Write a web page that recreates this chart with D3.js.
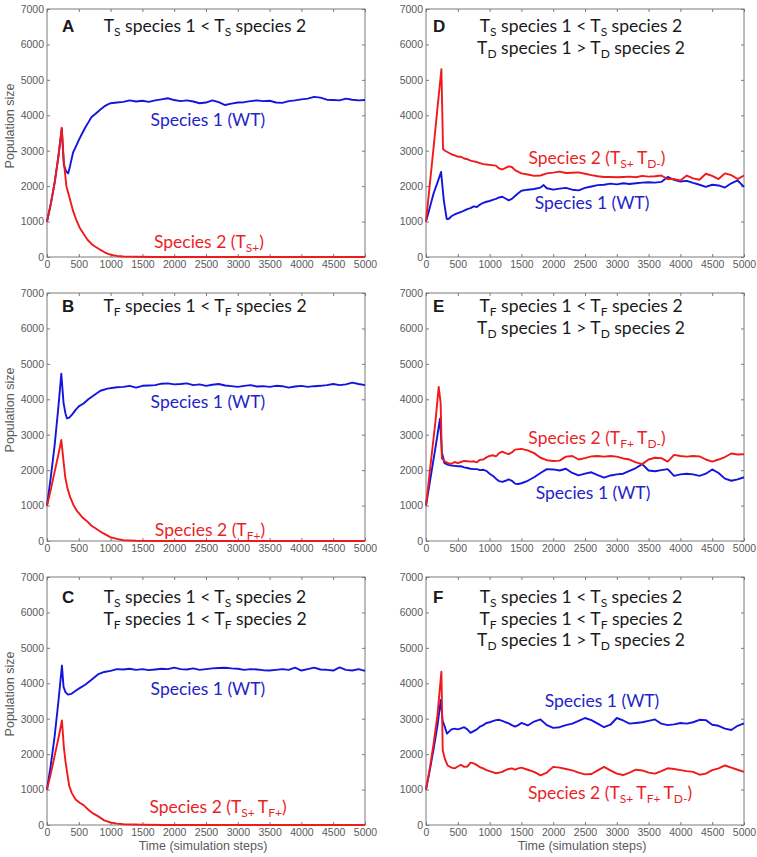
<!DOCTYPE html>
<html>
<head>
<meta charset="utf-8">
<title>Population size over time</title>
<script src="https://d3js.org/d3.v7.min.js"></script>
<style>
  body { margin: 0; background: #fff; }
  svg { display: block; }
  .tick text { font-family: 'Liberation Sans Narrow', 'Arial Narrow', 'Liberation Sans', sans-serif; font-size: 10.5px; fill: #5a5a5a; }
  .tick line { stroke: #7a7a7a; }
  .frame { fill: none; stroke: #7a7a7a; stroke-width: 1; }
  .axis-label { font-family: 'Liberation Sans Narrow', 'Arial Narrow', 'Liberation Sans', sans-serif; font-size: 12.5px; fill: #5a5a5a; }
  .title { font-family: Lato, 'Open Sans', sans-serif; font-size: 17.5px; fill: #1a1a1a; }
  .letter { font-family: 'Liberation Sans', Arial, sans-serif; font-size: 17px; font-weight: bold; fill: #1a1a1a; }
  .sp-label { font-family: Lato, 'Open Sans', sans-serif; font-size: 17.5px; }
  .line { fill: none; stroke-width: 1.9; stroke-linejoin: round; }
</style>
</head>
<body>
<script>
// ---- data: [time step, population size] ----
var xTicks = [0, 500, 1000, 1500, 2000, 2500, 3000, 3500, 4000, 4500, 5000];
var yTicks = [0, 1000, 2000, 3000, 4000, 5000, 6000, 7000];

var speciesA1 = [[0,1000],[60,1500],[120,2100],[180,2850],[232,3620],[265,2600],[300,2420],[332,2360],[360,2550],[410,2950],[450,3100],[500,3300],[550,3480],[600,3650],[650,3800],[700,3950],[750,4020],[800,4100],[850,4180],[900,4250],[950,4300],[1000,4340],[1100,4360],[1200,4380],[1300,4420],[1400,4390],[1500,4410],[1600,4380],[1700,4420],[1800,4450],[1900,4480],[2000,4430],[2100,4400],[2200,4420],[2300,4390],[2400,4340],[2500,4360],[2600,4420],[2700,4370],[2800,4290],[2900,4330],[3000,4360],[3100,4370],[3200,4400],[3300,4420],[3400,4400],[3500,4410],[3600,4360],[3700,4350],[3800,4400],[3900,4420],[4000,4450],[4100,4470],[4200,4520],[4300,4500],[4400,4440],[4500,4430],[4600,4420],[4700,4470],[4800,4440],[4900,4420],[5000,4430]];
var speciesA2 = [[0,1000],[60,1500],[120,2100],[180,2850],[232,3650],[263,2720],[305,2000],[350,1700],[410,1300],[460,1050],[516,820],[580,640],[640,480],[700,370],[760,290],[832,210],[900,140],[960,90],[1040,50],[1100,30],[1200,15],[1400,5],[1700,0],[5000,0]];

var speciesB1 = [[0,1000],[60,1800],[120,2700],[180,3800],[225,4720],[260,3900],[290,3600],[315,3460],[350,3480],[400,3580],[450,3700],[500,3800],[575,3880],[650,4000],[750,4130],[840,4240],[950,4300],[1100,4340],[1200,4350],[1300,4380],[1400,4330],[1500,4380],[1600,4390],[1700,4400],[1800,4440],[1900,4450],[2000,4420],[2100,4430],[2200,4450],[2300,4400],[2400,4420],[2500,4380],[2600,4410],[2700,4430],[2800,4390],[2900,4370],[3000,4350],[3100,4380],[3200,4400],[3300,4360],[3400,4370],[3500,4350],[3600,4380],[3700,4370],[3800,4330],[3900,4360],[4000,4380],[4100,4350],[4200,4370],[4300,4380],[4400,4400],[4500,4430],[4600,4400],[4700,4420],[4800,4470],[4900,4430],[5000,4400]];
var speciesB2 = [[0,1000],[60,1450],[120,1950],[180,2450],[225,2850],[260,2250],[288,1790],[320,1500],[366,1230],[420,1000],[471,850],[550,680],[628,560],[700,430],[785,330],[880,220],[995,110],[1100,60],[1200,20],[1400,8],[1800,0],[5000,0]];

var speciesC1 = [[0,1000],[60,1700],[120,2500],[180,3500],[235,4500],[260,3900],[290,3750],[330,3680],[380,3700],[450,3790],[520,3870],[600,3960],[700,4100],[800,4250],[900,4320],[1000,4350],[1100,4400],[1200,4390],[1300,4410],[1400,4380],[1500,4400],[1600,4370],[1700,4390],[1800,4410],[1900,4400],[2000,4440],[2100,4400],[2200,4390],[2300,4420],[2400,4380],[2500,4400],[2600,4420],[2700,4430],[2800,4440],[2900,4420],[3000,4410],[3100,4380],[3200,4400],[3300,4390],[3400,4370],[3500,4360],[3600,4380],[3700,4400],[3800,4380],[3900,4440],[4000,4360],[4100,4400],[4200,4440],[4300,4390],[4400,4380],[4500,4360],[4600,4450],[4700,4380],[4800,4360],[4900,4400],[5000,4350]];
var speciesC2 = [[0,1000],[60,1450],[120,1950],[180,2450],[235,2950],[265,2200],[290,1800],[315,1500],[350,1100],[390,900],[450,720],[520,620],[575,560],[650,430],[730,320],[800,250],[900,130],[1000,70],[1100,40],[1200,20],[1500,5],[1850,0],[5000,0]];

var speciesD1 = [[0,1000],[60,1400],[120,1800],[180,2100],[237,2400],[280,1600],[326,1070],[360,1080],[400,1150],[450,1200],[500,1240],[550,1270],[600,1310],[650,1350],[700,1380],[750,1430],[800,1410],[850,1480],[900,1530],[950,1560],[1000,1580],[1050,1610],[1100,1640],[1150,1680],[1200,1700],[1250,1650],[1300,1600],[1350,1640],[1400,1720],[1450,1800],[1500,1870],[1600,1900],[1700,1920],[1800,1960],[1850,2030],[1900,1940],[2000,1900],[2100,1930],[2200,1950],[2300,1900],[2400,1880],[2500,1950],[2600,1990],[2700,2030],[2800,2040],[2900,2070],[3000,2050],[3100,2080],[3200,2060],[3300,2080],[3400,2100],[3500,2110],[3600,2100],[3700,2120],[3800,2260],[3900,2180],[4000,2130],[4100,2150],[4200,2090],[4300,2040],[4400,1980],[4500,2040],[4600,2020],[4700,1960],[4800,2080],[4900,2160],[5000,1980]];
var speciesD2 = [[0,1000],[60,2050],[120,3100],[180,4200],[242,5300],[268,3050],[300,3000],[350,2950],[400,2900],[450,2870],[500,2830],[550,2830],[600,2780],[650,2760],[700,2720],[750,2700],[800,2680],[850,2650],[900,2620],[950,2610],[1000,2600],[1100,2580],[1150,2500],[1200,2470],[1300,2560],[1350,2540],[1400,2450],[1500,2360],[1600,2330],[1700,2290],[1800,2300],[1900,2360],[2000,2380],[2100,2410],[2200,2370],[2300,2380],[2400,2390],[2500,2350],[2600,2310],[2700,2280],[2800,2260],[2900,2260],[3000,2250],[3100,2260],[3200,2270],[3300,2250],[3400,2290],[3500,2270],[3600,2280],[3700,2300],[3800,2200],[3900,2200],[4000,2160],[4100,2300],[4200,2220],[4300,2180],[4400,2350],[4500,2290],[4600,2200],[4700,2360],[4800,2310],[4900,2200],[5000,2300]];

var speciesE1 = [[0,1000],[50,1550],[100,2100],[150,2650],[220,3450],[250,2500],[290,2200],[350,2150],[400,2130],[450,2120],[500,2110],[550,2110],[600,2080],[650,2060],[700,2040],[750,2030],[800,2030],[850,2000],[900,2010],[950,1980],[1000,1900],[1050,1840],[1100,1760],[1150,1690],[1200,1670],[1250,1700],[1300,1740],[1350,1700],[1400,1620],[1450,1610],[1500,1630],[1600,1700],[1700,1800],[1800,1920],[1900,2030],[2000,2020],[2100,1990],[2200,2040],[2300,1920],[2400,1850],[2500,1900],[2600,1940],[2700,1860],[2800,1790],[2900,1850],[3000,1880],[3100,1900],[3200,1980],[3300,2060],[3400,2170],[3500,1990],[3600,1970],[3700,2000],[3800,2030],[3900,1840],[4000,1880],[4100,1900],[4200,1880],[4300,1840],[4400,1900],[4500,2020],[4600,1920],[4700,1760],[4800,1700],[4900,1740],[5000,1800]];
var speciesE2 = [[0,1000],[50,1800],[100,2600],[150,3400],[200,4350],[230,3900],[250,2330],[300,2240],[350,2200],[400,2180],[450,2230],[500,2200],[550,2230],[600,2260],[650,2250],[700,2240],[750,2250],[800,2220],[850,2290],[900,2300],[950,2360],[1000,2400],[1050,2420],[1100,2390],[1150,2480],[1200,2520],[1250,2480],[1300,2450],[1350,2500],[1400,2580],[1500,2600],[1600,2560],[1700,2480],[1800,2350],[1900,2280],[2000,2260],[2100,2270],[2200,2380],[2300,2400],[2400,2300],[2500,2340],[2600,2390],[2700,2400],[2800,2380],[2900,2400],[3000,2380],[3100,2330],[3200,2300],[3300,2220],[3400,2170],[3500,2300],[3600,2350],[3700,2340],[3800,2240],[3900,2430],[4000,2400],[4100,2380],[4200,2400],[4300,2390],[4400,2300],[4500,2240],[4600,2300],[4700,2370],[4800,2470],[4900,2440],[5000,2450]];

var speciesF1 = [[0,1000],[60,1550],[120,2150],[180,2800],[232,3530],[260,2950],[290,2800],[330,2580],[400,2700],[450,2720],[500,2700],[550,2730],[600,2760],[650,2700],[700,2600],[750,2650],[800,2700],[850,2780],[900,2820],[950,2880],[1000,2900],[1050,2930],[1100,2960],[1150,2970],[1200,2940],[1250,2900],[1300,2870],[1350,2820],[1400,2780],[1450,2820],[1500,2880],[1600,2810],[1700,2920],[1800,2980],[1900,2820],[2000,2740],[2100,2760],[2200,2820],[2300,2860],[2400,2940],[2500,3020],[2600,2960],[2700,2860],[2800,2760],[2900,2830],[3000,3020],[3100,2950],[3200,2860],[3300,2880],[3400,2900],[3500,2940],[3600,2980],[3700,2860],[3800,2820],[3900,2840],[4000,2880],[4100,2860],[4200,2900],[4300,2970],[4400,2960],[4500,2830],[4600,2800],[4700,2720],[4800,2680],[4900,2800],[5000,2870]];
var speciesF2 = [[0,1000],[60,1600],[120,2300],[180,3100],[242,4330],[263,2100],[300,1850],[340,1680],[400,1620],[450,1600],[500,1650],[550,1700],[600,1640],[650,1650],[700,1760],[750,1740],[800,1690],[850,1630],[900,1600],[950,1550],[1000,1520],[1050,1490],[1100,1460],[1150,1480],[1200,1500],[1250,1550],[1300,1580],[1350,1600],[1400,1560],[1450,1600],[1500,1620],[1600,1560],[1700,1500],[1800,1400],[1900,1480],[2000,1640],[2100,1620],[2200,1580],[2300,1540],[2400,1480],[2500,1430],[2600,1440],[2700,1540],[2800,1640],[2900,1540],[3000,1450],[3100,1410],[3200,1480],[3300,1560],[3400,1540],[3500,1480],[3600,1450],[3700,1520],[3800,1600],[3900,1580],[4000,1550],[4100,1520],[4200,1500],[4300,1420],[4400,1450],[4500,1550],[4600,1600],[4700,1680],[4800,1620],[4900,1560],[5000,1500]];

// panel text
var panelLetters = ["A", "B", "C", "D", "E", "F"];
var panelTitles = [
  ["T_{S} species 1 < T_{S} species 2"],
  ["T_{F} species 1 < T_{F} species 2"],
  ["T_{S} species 1 < T_{S} species 2", "T_{F} species 1 < T_{F} species 2"],
  ["T_{S} species 1 < T_{S} species 2", "T_{D} species 1 > T_{D} species 2"],
  ["T_{F} species 1 < T_{F} species 2", "T_{D} species 1 > T_{D} species 2"],
  ["T_{S} species 1 < T_{S} species 2", "T_{F} species 1 < T_{F} species 2", "T_{D} species 1 > T_{D} species 2"]
];
var species1Labels = ["Species 1 (WT)", "Species 1 (WT)", "Species 1 (WT)", "Species 1 (WT)", "Species 1 (WT)", "Species 1 (WT)"];
var species2Labels = ["Species 2 (T_{S+})", "Species 2 (T_{F+})", "Species 2 (T_{S+ }T_{F+})",
                      "Species 2 (T_{S+ }T_{D-})", "Species 2 (T_{F+ }T_{D-})", "Species 2 (T_{S+ }T_{F+ }T_{D-})"];
// label anchor points in data units [time, population]
var species1Anchor = [[2530,3700],[2530,3740],[2530,3670],[2610,1355],[2626,1190],[2767,3330]];
var species2Anchor = [[2547,254],[2563,142],[2689,339],[2689,2625],[2689,2749],[2893,734]];

var series1 = [speciesA1, speciesB1, speciesC1, speciesD1, speciesE1, speciesF1];
var series2 = [speciesA2, speciesB2, speciesC2, speciesD2, speciesE2, speciesF2];

// ---- layout ----
var W = 757, H = 857;
var plotW = 318, plotH = 248;
var colX = [47, 426];
var rowY = [9, 293, 577];
var titleOffset = [23, 19, 26];   // baseline of first title line below plot top
var blue = "#1414e0", red = "#f01a1a";
var blueText = "#2323c8", redText = "#ea1f27";

var svg = d3.select("body").append("svg")
    .attr("width", W)
    .attr("height", H);

var x = d3.scaleLinear().domain([0, 5000]).range([0, plotW]);
var y = d3.scaleLinear().domain([0, 7000]).range([plotH, 0]);

var line = d3.line()
    .x(function(d) { return x(d[0]); })
    .y(function(d) { return y(d[1]); });

// write "T_{S} species" as text with subscript tspans
function richText(sel, str, subSize) {
  var parts = str.split(/(_\{[^}]*\})/);
  parts.forEach(function(p) {
    if (!p) return;
    if (p.indexOf("_{") === 0) {
      sel.append("tspan")
        .attr("baseline-shift", "-4px")
        .style("font-size", subSize + "px")
        .text(p.slice(2, -1));
    } else {
      sel.append("tspan").text(p);
    }
  });
}

for (var i = 0; i < 6; i++) {
  var col = Math.floor(i / 3), row = i % 3;
  var g = svg.append("g")
      .attr("transform", "translate(" + colX[col] + "," + rowY[row] + ")");

  // axes, ticks pointing inward on all four sides
  g.append("g")
    .attr("transform", "translate(0," + plotH + ")")
    .call(d3.axisBottom(x).tickValues(xTicks).tickFormat(d3.format("d")).tickSizeInner(-3).tickSizeOuter(0).tickPadding(4))
    .call(function(a) { a.select(".domain").remove(); });
  g.append("g")
    .call(d3.axisTop(x).tickValues(xTicks).tickSizeInner(-3).tickSizeOuter(0).tickFormat(""))
    .call(function(a) { a.select(".domain").remove(); a.selectAll("text").remove(); });
  g.append("g")
    .call(d3.axisLeft(y).tickValues(yTicks).tickFormat(d3.format("d")).tickSizeInner(-3).tickSizeOuter(0).tickPadding(3))
    .call(function(a) { a.select(".domain").remove(); });
  g.append("g")
    .attr("transform", "translate(" + plotW + ",0)")
    .call(d3.axisRight(y).tickValues(yTicks).tickSizeInner(-3).tickSizeOuter(0).tickFormat(""))
    .call(function(a) { a.select(".domain").remove(); a.selectAll("text").remove(); });

  g.append("rect").attr("class", "frame")
    .attr("x", 0).attr("y", 0)
    .attr("width", plotW).attr("height", plotH);

  // the two populations
  g.append("path").attr("class", "line")
    .attr("d", line(series1[i]))
    .style("stroke", blue);
  g.append("path").attr("class", "line")
    .attr("d", line(series2[i]))
    .style("stroke", red);

  // panel letter and conditions
  g.append("text").attr("class", "letter")
    .attr("x", col === 0 ? 15 : 7)
    .attr("y", titleOffset[row])
    .text(panelLetters[i]);

  panelTitles[i].forEach(function(t, k) {
    var tx = g.append("text").attr("class", "title")
      .attr("x", plotW / 2 - (col === 0 ? 1 : 4))
      .attr("y", titleOffset[row] + k * 21.5)
      .attr("text-anchor", "middle");
    richText(tx, t, 12);
  });

  var l1 = g.append("text").attr("class", "sp-label")
    .attr("x", x(species1Anchor[i][0]))
    .attr("y", y(species1Anchor[i][1]))
    .attr("text-anchor", "middle")
    .style("fill", blueText);
  richText(l1, species1Labels[i], 12);

  var l2 = g.append("text").attr("class", "sp-label")
    .attr("x", x(species2Anchor[i][0]))
    .attr("y", y(species2Anchor[i][1]))
    .attr("text-anchor", "middle")
    .style("fill", redText);
  richText(l2, species2Labels[i], 12);

  if (col === 0) {
    g.append("text").attr("class", "axis-label")
      .attr("transform", "translate(-33," + (plotH / 2 - 7) + ") rotate(-90)")
      .attr("text-anchor", "middle")
      .text("Population size");
  }
  if (row === 2) {
    g.append("text").attr("class", "axis-label")
      .attr("x", plotW / 2 - 3)
      .attr("y", plotH + 25)
      .attr("text-anchor", "middle")
      .text("Time (simulation steps)");
  }
}
</script>
</body>
</html>
